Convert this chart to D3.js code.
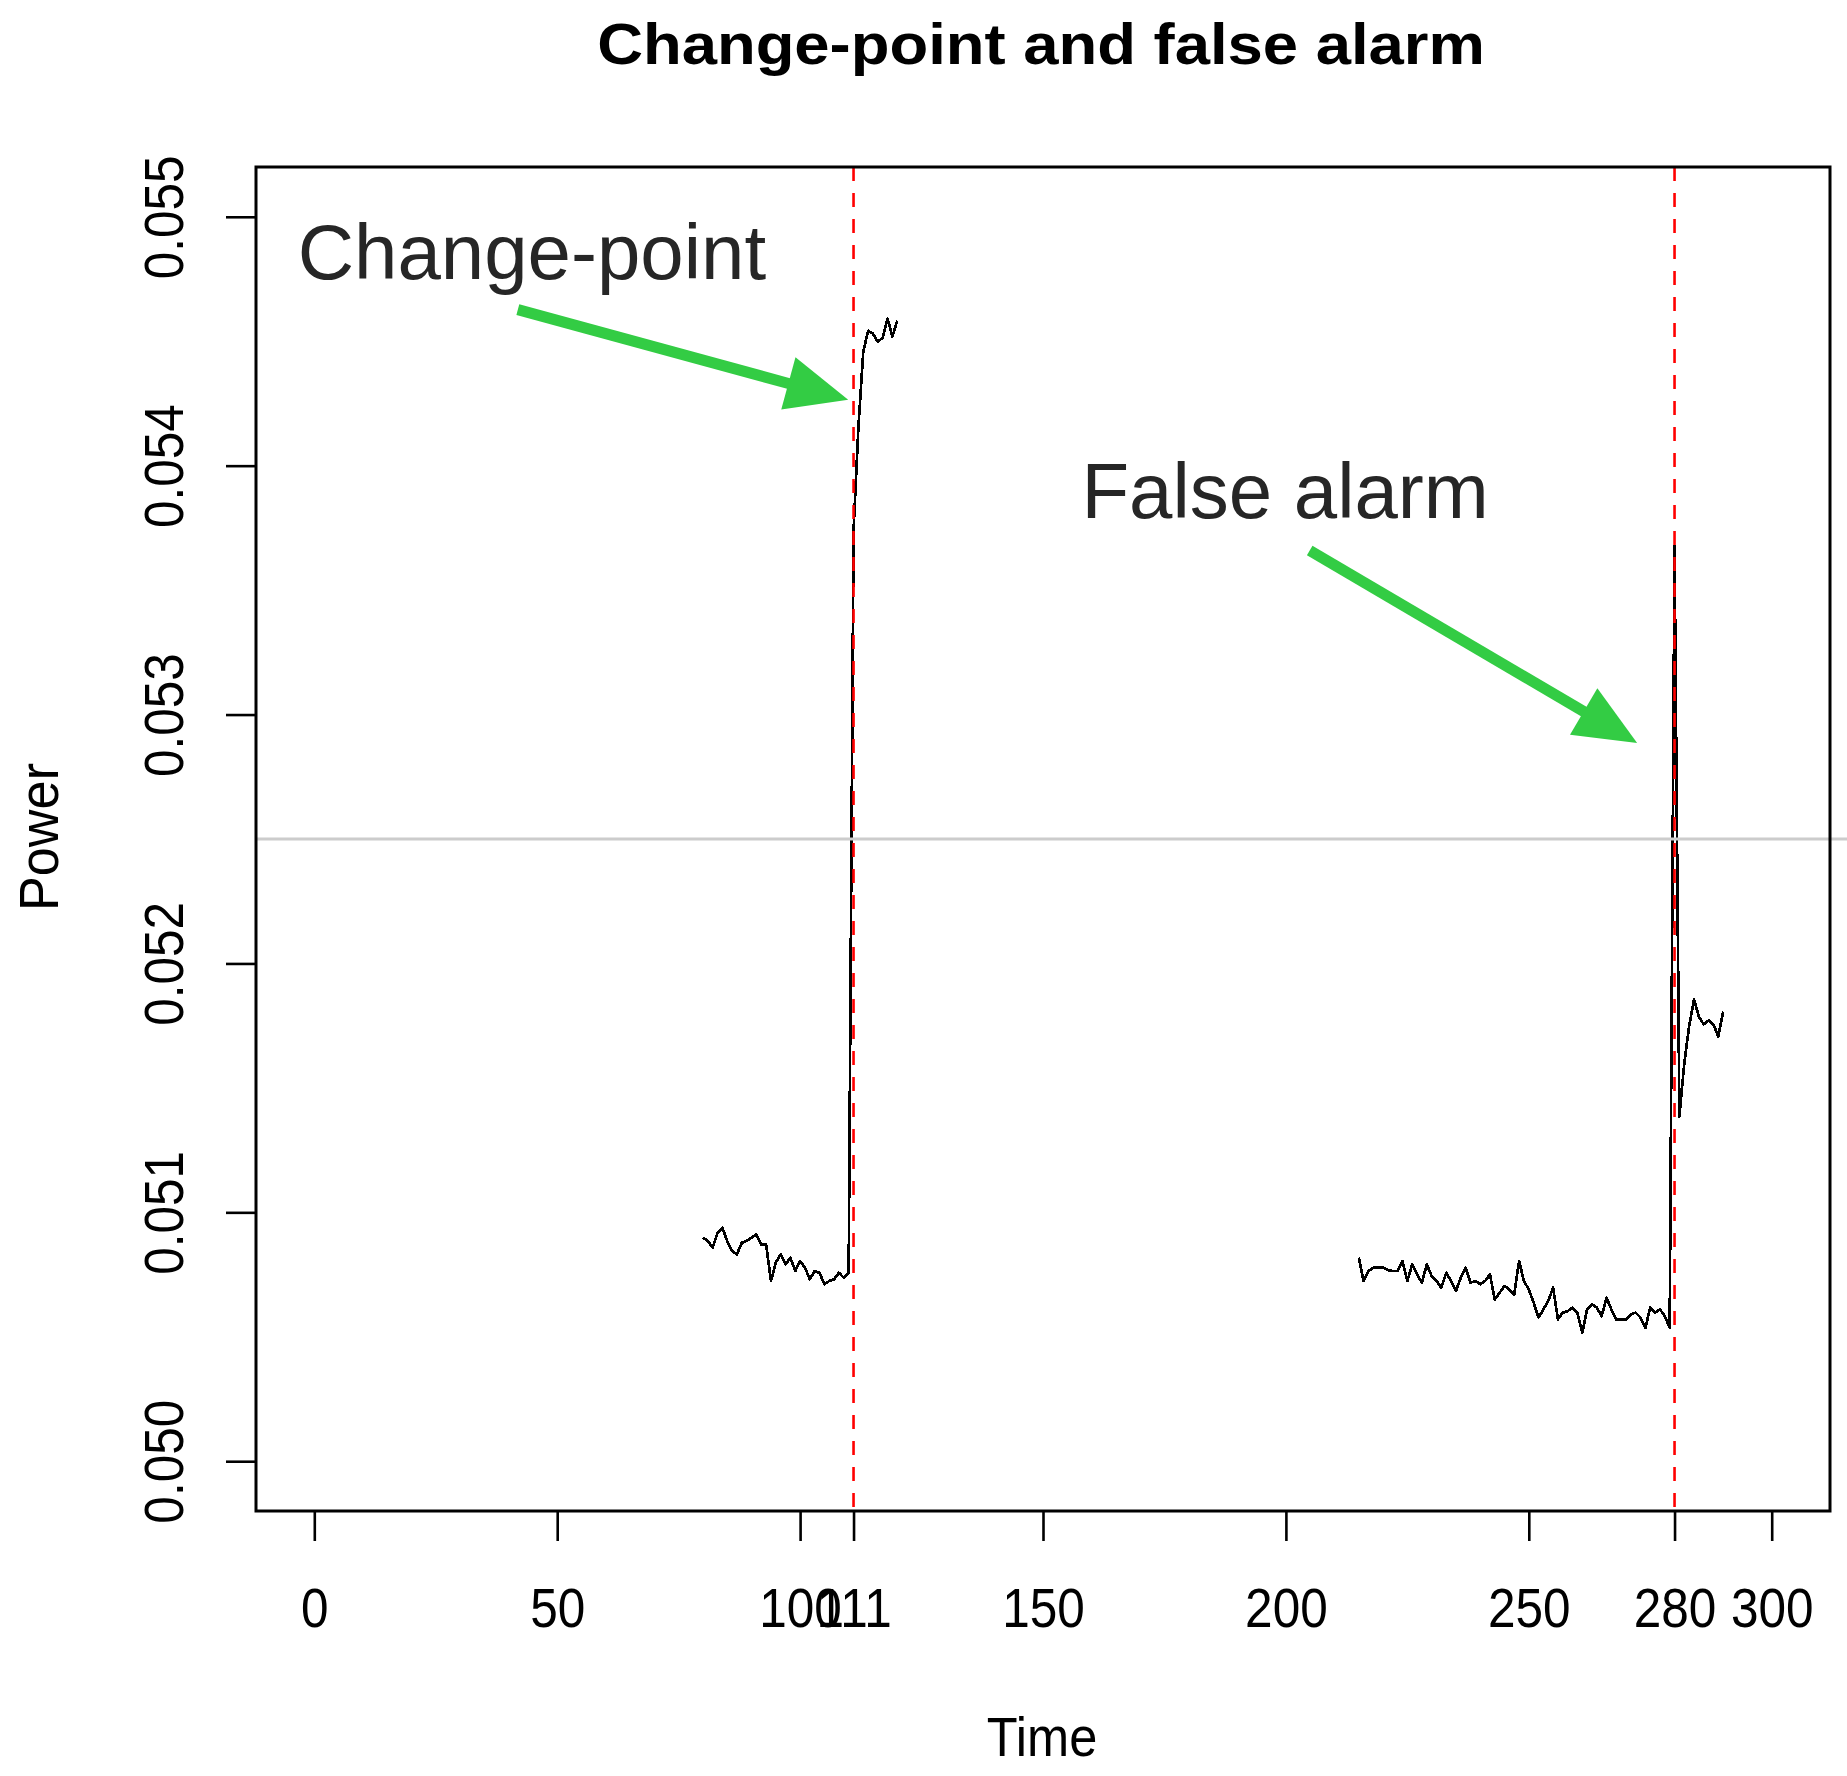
<!DOCTYPE html>
<html><head><meta charset="utf-8">
<script src="https://cdn.jsdelivr.net/npm/d3@7"></script>
<style>body{margin:0;background:#fff;} svg text{font-family:"Liberation Sans", Arial, sans-serif;}</style>
</head><body><svg id="chart" width="1847" height="1776"></svg>
<script>
// ---------- data ----------
const xTicks = [0, 50, 100, 111, 150, 200, 250, 280, 300];
const yTicks = [0.050, 0.051, 0.052, 0.053, 0.054, 0.055];
const changeTimes = [111, 280];
const referencePower = [0.0525];

const s1Time = [80,81,82,83,84,85,86,87,88,89,90,91,92,93,94,95,96,97,98,99,100,
  101,102,103,104,105,106,107,108,109,110,111,112,113,114,115,116,117,118,119,120];
const s1Power = [0.050898,0.050885,0.050858,0.050918,0.050938,0.050885,0.050844,0.050831,0.050878,0.050885,
  0.050898,0.050911,0.050871,0.050871,0.050724,0.050798,0.050831,0.050791,0.050818,0.050764,
  0.050804,0.050778,0.050731,0.050764,0.050757,0.050711,0.050724,0.050731,0.050757,0.050737,
  0.050757,0.053739,0.054153,0.054458,0.054542,0.054530,0.054498,0.054514,0.054591,0.054518,0.054583];

const s2Time = [215,216,217,218,219,220,221,222,223,224,225,226,227,228,229,230,231,232,233,234,
  235,236,237,238,239,240,241,242,243,244,245,246,247,248,249,250,251,252,253,254,
  255,256,257,258,259,260,261,262,263,264,265,266,267,268,269,270,271,272,273,274,
  275,276,277,278,279,280,281,282,283,284,285,286,287,288,289,290];
const s2Power = [0.050818,0.050724,0.050764,0.050778,0.050778,0.050778,0.050768,0.050764,0.050764,0.050804,
  0.050724,0.050791,0.050751,0.050717,0.050791,0.050744,0.050724,0.050697,0.050757,0.050724,
  0.050684,0.050737,0.050778,0.050717,0.050724,0.050711,0.050724,0.050751,0.050650,0.050677,
  0.050704,0.050690,0.050670,0.050804,0.050724,0.050690,0.050637,0.050577,0.050610,0.050644,
  0.050697,0.050570,0.050597,0.050603,0.050617,0.050597,0.050516,0.050610,0.050630,0.050617,
  0.050583,0.050657,0.050610,0.050570,0.050570,0.050570,0.050590,0.050597,0.050577,0.050536,
  0.050617,0.050597,0.050610,0.050583,0.050536,
  0.053676,0.051385,0.051598,0.051747,0.051855,0.051787,0.051755,0.051771,0.051755,0.051707,0.051807];

const annotLabels = ["Change-point", "False alarm"];
const annotAnchorT = [-3.4, 157.9];
const annotAnchorV = [0.054751, 0.053791];
const arrowFromT = [41.9, 204.9], arrowFromV = [0.054627, 0.053659];
const arrowToT = [109.9, 272.3], arrowToV = [0.054265, 0.052886];

// ---------- layout ----------
const W = 1847, H = 1776;
const m = {left: 256, right: 1830, top: 167, bottom: 1511};
const x = d3.scaleLinear().domain([-12, 312]).range([m.left, m.right]);
const y = d3.scaleLinear().domain([0.0498, 0.0552]).range([m.bottom, m.top]);
const svg = d3.select("#chart");
svg.append("rect").attr("width", W).attr("height", H).attr("fill", "#fff");

svg.append("clipPath").attr("id", "clip").append("rect")
  .attr("x", m.left).attr("y", m.top).attr("width", m.right - m.left).attr("height", m.bottom - m.top);
const plot = svg.append("g").attr("clip-path", "url(#clip)");

const line = d3.line().x(d => x(d[0])).y(d => y(d[1]));
[[s1Time, s1Power], [s2Time, s2Power]].forEach(([t, v]) => {
  plot.append("path").datum(t.map((ti, i) => [ti, v[i]]))
    .attr("d", line).attr("fill", "none").attr("stroke", "#000")
    .attr("stroke-width", 2.7).attr("stroke-linejoin", "round")
    .attr("shape-rendering", "crispEdges");
});
changeTimes.forEach(ct => plot.append("line")
  .attr("x1", x(ct)).attr("x2", x(ct)).attr("y1", m.top).attr("y2", m.bottom)
  .attr("stroke", "#ff0000").attr("stroke-width", 2.6).attr("stroke-dasharray", "14,12"));
referencePower.forEach(h => svg.append("line")
  .attr("x1", m.left).attr("x2", W).attr("y1", y(h)).attr("y2", y(h))
  .attr("stroke", "#cccccc").attr("stroke-width", 3));

// box
svg.append("rect").attr("x", m.left).attr("y", m.top)
  .attr("width", m.right - m.left).attr("height", m.bottom - m.top)
  .attr("fill", "none").attr("stroke", "#000").attr("stroke-width", 3);

// axes
const xa = svg.append("g").attr("transform", `translate(0,${m.bottom})`)
  .call(d3.axisBottom(x).tickValues(xTicks).tickSize(30).tickPadding(47).tickFormat(d3.format("d")));
xa.select(".domain").remove();
xa.attr("font-family", "Liberation Sans, Arial, sans-serif").attr("font-size", 55);
xa.selectAll("line").attr("stroke", "#000").attr("stroke-width", 2.6);
xa.selectAll("text").attr("fill", "#000").attr("transform", "scale(0.9,1)");

const ya = svg.append("g").attr("transform", `translate(${m.left},0)`)
  .call(d3.axisLeft(y).tickValues(yTicks).tickSize(30).tickFormat(d3.format(".3f")));
ya.select(".domain").remove();
ya.attr("font-family", "Liberation Sans, Arial, sans-serif").attr("font-size", 55);
ya.selectAll("line").attr("stroke", "#000").attr("stroke-width", 2.6);
ya.selectAll("text").attr("x", 0).attr("dy", 0).attr("text-anchor", "middle").attr("fill", "#000")
  .attr("transform", "translate(-73,0) rotate(-90) scale(0.9,1)");

// titles
const title = svg.append("text").attr("text-anchor", "middle").attr("font-weight", "bold")
  .attr("font-size", 58).attr("fill", "#000").text("Change-point and false alarm");
const tl = title.node().getComputedTextLength();
title.attr("transform", `translate(1041,64) scale(${888 / tl},1)`);

svg.append("text").attr("text-anchor", "middle").attr("font-size", 55).attr("fill", "#000")
  .attr("transform", "translate(1042,1756) scale(0.92,1)").text("Time");
svg.append("text").attr("text-anchor", "middle").attr("font-size", 55).attr("fill", "#000")
  .attr("transform", "translate(58,837) rotate(-90) scale(0.95,1)").text("Power");

// annotations
annotLabels.forEach((lab, i) => {
  svg.append("text").attr("x", x(annotAnchorT[i])).attr("y", y(annotAnchorV[i]))
    .attr("font-size", 78).attr("fill", "#262626").text(lab);
});
const green = "#33cc44";
arrowFromT.forEach((ft, i) => {
  const x0 = x(ft), y0 = y(arrowFromV[i]), x1 = x(arrowToT[i]), y1 = y(arrowToV[i]);
  const dx = x1 - x0, dy = y1 - y0, L = Math.hypot(dx, dy), ux = dx / L, uy = dy / L;
  const hl = 62, hw = 27;
  const bx = x1 - ux * hl, by = y1 - uy * hl;
  svg.append("line").attr("x1", x0).attr("y1", y0).attr("x2", bx + ux * 4).attr("y2", by + uy * 4)
    .attr("stroke", green).attr("stroke-width", 11);
  svg.append("polygon").attr("fill", green)
    .attr("points", [[x1, y1], [bx - uy * hw, by + ux * hw], [bx + uy * hw, by - ux * hw]].map(p => p.join(",")).join(" "));
});
</script></body></html>
